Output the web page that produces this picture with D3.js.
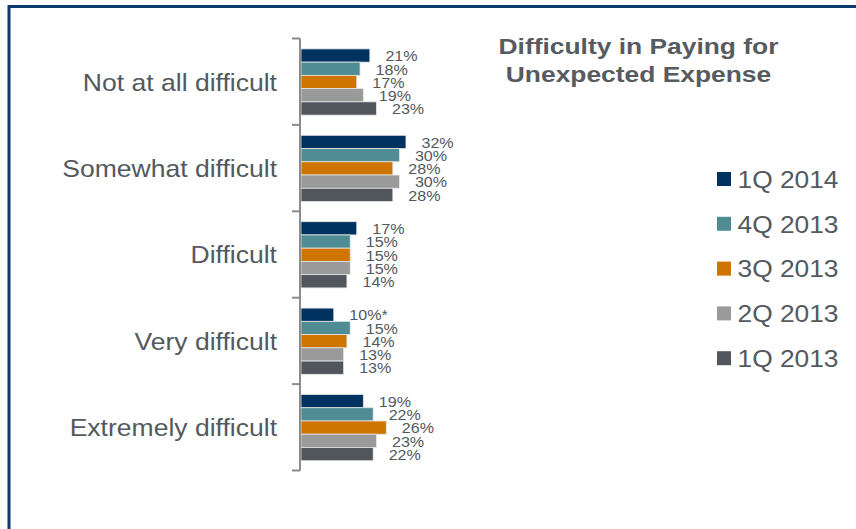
<!DOCTYPE html>
<html>
<head>
<meta charset="utf-8">
<script src="https://cdn.jsdelivr.net/npm/d3@7/dist/d3.min.js"></script>
<style>
  html, body { margin: 0; padding: 0; background: #fff; }
  svg { display: block; font-family: "Liberation Sans", Arial, sans-serif; }
</style>
</head>
<body>
<svg id="chart" width="856" height="529"></svg>
<script>
// Survey answers, top to bottom
const categories = ["Not at all difficult", "Somewhat difficult", "Difficult", "Very difficult", "Extremely difficult"];
// Survey waves, in legend / bar order
const seriesNames = ["1Q 2014", "4Q 2013", "3Q 2013", "2Q 2013", "1Q 2013"];
const seriesColors = ["#00325f", "#4f8c94", "#d07400", "#9a9a9a", "#50565b"];
// Share of respondents (%) per wave, listed per category
const v1Q2014 = [21, 32, 17, 10, 19];
const v4Q2013 = [18, 30, 15, 15, 22];
const v3Q2013 = [17, 28, 15, 14, 26];
const v2Q2013 = [19, 30, 15, 13, 23];
const v1Q2013 = [23, 28, 14, 13, 22];
// Footnote marks on value labels
const labelNotes = { "1Q 2014|Very difficult": "*" };
const titleLines = ["Difficulty in Paying for", "Unexpected Expense"];

const seriesValues = [v1Q2014, v4Q2013, v3Q2013, v2Q2013, v1Q2013];

const svg = d3.select("#chart");
const textColor = "#53595e";

// Text drawn slightly widened, as in the slide deck this chart comes from
function wideText(parent, x, y, sx) {
  return parent.append("g")
    .attr("transform", `translate(${x},${y}) scale(${sx},1)`)
    .append("text");
}

// Frame
svg.append("path")
  .attr("d", "M9,529 V6.5 H856")
  .attr("fill", "none")
  .attr("stroke", "#0d3a6b")
  .attr("stroke-width", 3);

const x = d3.scaleLinear().domain([0, 10]).range([301, 333.8]);
const y = d3.scaleBand().domain(categories).range([38.5, 470.5]);
const yInner = d3.scaleBand().domain(seriesNames).range([10.4, 76.6]);

const rows = categories.map((c, ci) => ({
  category: c,
  bars: seriesNames.map((s, si) => ({ series: s, color: seriesColors[si], value: seriesValues[si][ci], category: c }))
}));

const groups = svg.append("g").selectAll("g")
  .data(rows)
  .join("g")
  .attr("transform", d => `translate(0,${y(d.category)})`);

groups.selectAll("rect")
  .data(d => d.bars)
  .join("rect")
  .attr("x", x(0))
  .attr("y", d => yInner(d.series))
  .attr("width", d => x(d.value) - x(0))
  .attr("height", yInner.bandwidth())
  .attr("fill", d => d.color)
  .attr("stroke", "#e4e6e8")
  .attr("stroke-width", 0.8);

groups.each(function (row) {
  const g = d3.select(this);
  row.bars.forEach(d => {
    wideText(g, x(d.value) + 15.5, yInner(d.series) + yInner.bandwidth() / 2, 1.06)
      .attr("dy", "0.38em")
      .attr("font-size", 15.2)
      .attr("fill", textColor)
      .text(d.value + "%" + (labelNotes[d.series + "|" + d.category] || ""));
  });
});

// Category axis with ticks on band boundaries
const axisG = svg.append("g");
axisG.append("line")
  .attr("x1", 300).attr("x2", 300)
  .attr("y1", y.range()[0]).attr("y2", y.range()[1])
  .attr("stroke", "#8c8c8c").attr("stroke-width", 2);
const bounds = categories.map(c => y(c)).concat([y.range()[1]]);
axisG.selectAll("line.tick")
  .data(bounds)
  .join("line")
  .attr("class", "tick")
  .attr("x1", 292).attr("x2", 300)
  .attr("y1", d => d).attr("y2", d => d)
  .attr("stroke", "#8c8c8c").attr("stroke-width", 2);

categories.forEach(c => {
  wideText(axisG, 277, y(c) + y.bandwidth() / 2, 1.07)
    .attr("dy", "0.36em")
    .attr("text-anchor", "end")
    .attr("font-size", 24.8)
    .attr("fill", textColor)
    .text(c);
});

// Title
titleLines.forEach((line, i) => {
  wideText(svg, 638.5, 54 + i * 28, 1.2)
    .attr("text-anchor", "middle")
    .attr("font-size", 22)
    .attr("font-weight", "bold")
    .attr("fill", "#555b60")
    .text(line);
});

// Legend
const legend = svg.append("g").selectAll("g")
  .data(seriesNames)
  .join("g")
  .attr("transform", (d, i) => `translate(717,${179 + i * 44.8})`);
legend.append("rect")
  .attr("x", 0).attr("y", -7)
  .attr("width", 14).attr("height", 14)
  .attr("fill", (d, i) => seriesColors[i]);
legend.each(function (d) {
  wideText(d3.select(this), 20.5, 0, 1.08)
    .attr("dy", "0.36em")
    .attr("font-size", 24.4)
    .attr("fill", textColor)
    .text(d);
});
</script>
</body>
</html>
